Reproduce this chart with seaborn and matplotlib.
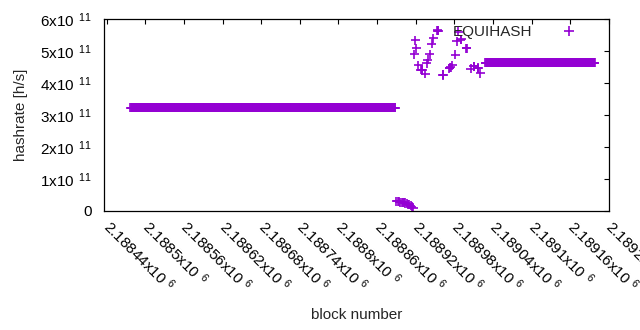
import numpy as np
import pandas as pd
import matplotlib
matplotlib.use("Agg")
import matplotlib.pyplot as plt
import seaborn as sns
from matplotlib.ticker import FixedLocator, FuncFormatter

# ---------------- data ----------------
series_name = "EQUIHASH"

# long constant run before the disturbance
flat1_start, flat1_end, flat1_value = 2188477, 2188888, 3.23e11
# low, decreasing run right after it
low_blocks = [2188890, 2188892, 2188894, 2188896, 2188898, 2188900, 2188902,
              2188904, 2188906, 2188908, 2188910, 2188912, 2188914, 2188916]
low_values = [0.30e11, 0.30e11, 0.29e11, 0.28e11, 0.28e11, 0.27e11, 0.26e11,
              0.25e11, 0.23e11, 0.21e11, 0.19e11, 0.17e11, 0.14e11, 0.10e11]
# scattered points
scatter_blocks = [2188918, 2188919, 2188921, 2188924, 2188928, 2188929, 2188930,
                  2188935, 2188937, 2188939, 2188942, 2188945, 2188947,
                  2188953, 2188954, 2188955, 2188962, 2188963,
                  2188972, 2188973, 2188974, 2188977, 2188981, 2188984, 2188986,
                  2188990, 2188991, 2188998, 2188999, 2189005,
                  2189010, 2189011, 2189016, 2189017, 2189020]
scatter_values = [4.90e11, 5.33e11, 5.08e11, 4.56e11, 4.41e11, 4.40e11, 4.42e11,
                  4.29e11, 4.61e11, 4.72e11, 4.90e11, 5.22e11, 5.40e11,
                  5.64e11, 5.65e11, 5.64e11, 4.25e11, 4.26e11,
                  4.46e11, 4.47e11, 4.49e11, 4.56e11, 4.88e11, 5.30e11, 5.60e11,
                  5.35e11, 5.37e11, 5.08e11, 5.09e11, 4.44e11,
                  4.52e11, 4.53e11, 4.46e11, 4.47e11, 4.30e11]
# constant run after the disturbance
flat2_start, flat2_end, flat2_value = 2189028, 2189198, 4.64e11

x_ticks = [2188440, 2188500, 2188560, 2188620, 2188680, 2188740, 2188800,
           2188860, 2188920, 2188980, 2189040, 2189100, 2189160, 2189220]
y_ticks = [0, 1e11, 2e11, 3e11, 4e11, 5e11, 6e11]

# ---------------- build table ----------------
f1_blocks = np.arange(flat1_start, flat1_end + 1)
f2_blocks = np.arange(flat2_start, flat2_end + 1)
blocks = np.concatenate([f1_blocks, low_blocks, scatter_blocks, f2_blocks])
values = np.concatenate([np.full(len(f1_blocks), flat1_value), low_values,
                         scatter_values, np.full(len(f2_blocks), flat2_value)])
df = pd.DataFrame({"block": blocks, "hashrate": values, "series": series_name})

# ---------------- style ----------------
sns.set_style("white")
plt.rcParams["font.family"] = ["Liberation Sans", "DejaVu Sans"]
plt.rcParams["mathtext.fontset"] = "custom"
plt.rcParams["mathtext.rm"] = "Liberation Sans"
plt.rcParams["mathtext.it"] = "Liberation Sans"

fig = plt.figure(figsize=(6.4, 3.3), dpi=100)
ax = fig.add_axes([104 / 640, 1 - 211 / 330, 505 / 640, 192 / 330])

color = "#9400D3"
sns.scatterplot(data=df, x="block", y="hashrate", hue="series",
                palette=[color], marker="+", s=42, linewidth=1.2,
                ax=ax, legend=True)

ax.set_xlim(2188436, 2189220)
ax.set_ylim(0, 6e11)

def sci(v, exp):
    if v == 0:
        return "0"
    m = v / 10 ** exp
    return r"$\mathregular{%sx10^{\;\;%d}}$" % (f"{m:g}", exp)

ax.yaxis.set_major_locator(FixedLocator(y_ticks))
ax.yaxis.set_major_formatter(FuncFormatter(lambda v, p: sci(v, 11)))
ax.xaxis.set_major_locator(FixedLocator(x_ticks))
ax.xaxis.set_major_formatter(FuncFormatter(lambda v, p: sci(v, 6)))

ax.tick_params(axis="both", direction="in", length=3.5, width=0.8,
               top=True, right=True, labelsize=11, colors="black")
ax.tick_params(axis="y", pad=9)
ax.tick_params(axis="x", pad=9)
for lab in ax.get_xticklabels():
    lab.set_rotation(-45)
    lab.set_ha("left")
    lab.set_va("center")
    lab.set_rotation_mode("anchor")

for sp in ax.spines.values():
    sp.set_color("black")
    sp.set_linewidth(0.9)

ax.set_xlabel("block number", fontsize=11, labelpad=9)
ax.set_ylabel("hashrate [h/s]", fontsize=11, labelpad=9)

leg = ax.legend(loc="upper right", bbox_to_anchor=(0.963, 1.0), frameon=False,
                markerfirst=False, fontsize=11, handletextpad=1.4,
                borderaxespad=0.0, markerscale=1.0)
for h in leg.legend_handles:
    h.set_color(color)

fig.savefig("out.png", dpi=100)
